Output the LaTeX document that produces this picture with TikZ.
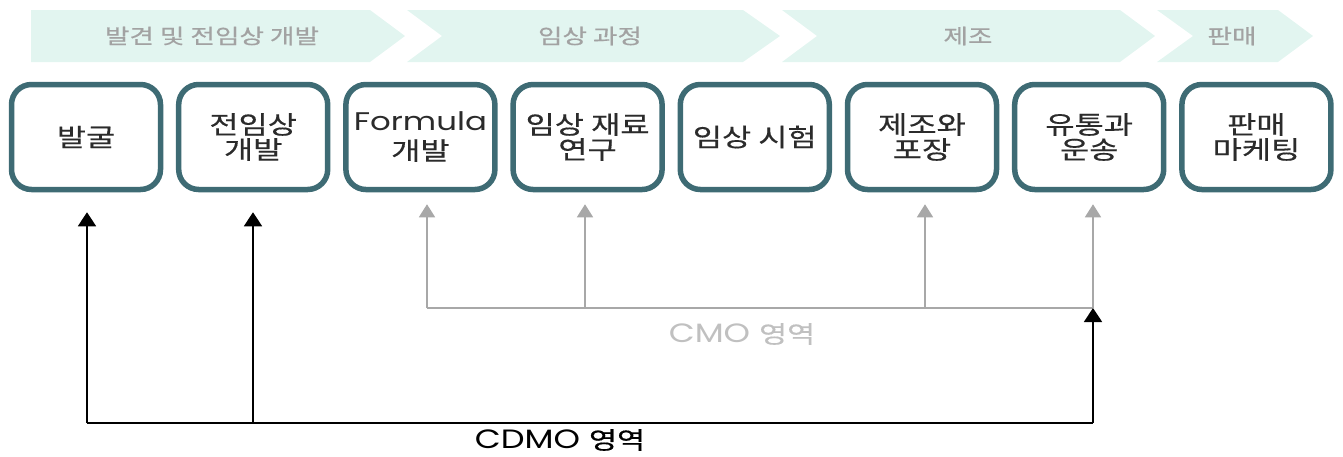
\documentclass[tikz,border=0pt]{standalone}
\usepackage{fontspec}
\usetikzlibrary{arrows.meta}
\newfontfamily\kr[FakeStretch=1.27,FakeBold=0.4]{Noto Sans CJK KR}
\newfontfamily\krb[FakeStretch=1.3,FakeBold=0.5]{Noto Sans CJK KR}
\newfontfamily\lat[FakeStretch=1.27]{Poppins}
\definecolor{teal}{HTML}{3E6B74}
\definecolor{mint}{HTML}{E2F5F0}
\definecolor{bantext}{HTML}{A2A2A2}
\definecolor{boxtext}{HTML}{2B2B2B}
\definecolor{garrow}{HTML}{A8A8A8}
\definecolor{cmotext}{HTML}{C0C0C0}
\tikzset{
  chev/.style={fill=mint, draw=none},
  bantxt/.style={text=bantext, font=\krb\fontsize{20.5}{23}\selectfont, inner sep=0pt},
  stagebox/.style={draw=teal, line width=5.5pt, rounded corners=20pt, fill=white,
    minimum width=149pt, minimum height=105pt, align=center, text=boxtext,
    font=\kr\fontsize{25}{25}\selectfont, inner sep=0pt},
  grayarr/.style={draw=garrow, line width=1.6pt, -{Triangle[width=16pt,length=13pt]}},
  blackarr/.style={draw=black, line width=1.8pt, -{Triangle[width=18pt,length=14pt]}},
  grayline/.style={draw=garrow, line width=1.6pt},
  blackline/.style={draw=black, line width=1.8pt},
  areatxt/.style={font=\lat\fontsize{26.5}{28}\selectfont, inner sep=0pt},
}
\begin{document}
\begin{tikzpicture}[x=1pt,y=-1pt]
\useasboundingbox (0,0) rectangle (1343,456);
% banner
\fill[chev] (31,10) -- (370,10) -- (405,36) -- (370,62) -- (31,62) -- cycle;
\fill[chev] (407,10) -- (743,10) -- (780,36) -- (743,62) -- (407,62) -- (442,36) -- cycle;
\fill[chev] (782,10) -- (1120,10) -- (1155,36) -- (1120,62) -- (782,62) -- (817,36) -- cycle;
\fill[chev] (1157,10) -- (1278,10) -- (1313,36) -- (1278,62) -- (1157,62) -- (1193,36) -- cycle;
\node[bantxt] (p1) at (212,36) {발견 및 전임상 개발};
\node[bantxt] (p2) at (590,36) {임상 과정};
\node[bantxt] (p3) at (968,36) {제조};
\node[bantxt] (p4) at (1232,36) {판매};
% boxes
\node[stagebox] (b1) at (86,137) {발굴};
\node[stagebox] (b2) at (253.2,137) {전임상\\개발};
\node[stagebox] (b3) at (420.4,137) {{\lat\fontsize{25.5}{25}\selectfont Formula}\\[4pt]개발};
\node[stagebox] (b4) at (587.6,137) {임상 재료\\연구};
\node[stagebox] (b5) at (754.8,137) {임상 시험};
\node[stagebox] (b6) at (922,137) {제조와\\포장};
\node[stagebox] (b7) at (1089.2,137) {유통과\\운송};
\node[stagebox] (b8) at (1256.4,137) {판매\\마케팅};
% CMO
\coordinate (g1) at (427,308);
\coordinate (g2) at (585,308);
\coordinate (g3) at (925,308);
\coordinate (g4) at (1093,308);
\draw[grayline] (g1) -- (g4);
\draw[grayarr, shorten >=12pt] (g1) -- (g1 |- b3.south);
\draw[grayarr, shorten >=12pt] (g2) -- (g2 |- b4.south);
\draw[grayarr, shorten >=12pt] (g3) -- (g3 |- b6.south);
\draw[grayarr, shorten >=12pt] (g4) -- (g4 |- b7.south);
\node[areatxt, text=cmotext] (cmo) at (742,334) {CMO {\kr\fontsize{24}{26}\selectfont 영역}};
% CDMO
\coordinate (k1) at (87,423);
\coordinate (k2) at (253,423);
\coordinate (k3) at (1093,423);
\draw[blackline] (k1) -- (k3);
\draw[blackarr, shorten >=20pt] (k1) -- (k1 |- b1.south);
\draw[blackarr, shorten >=20pt] (k2) -- (k2 |- b2.south);
\draw[blackarr] (k3) -- (g4);
\node[areatxt, text=black] (cdmo) at (560,440) {CDMO {\kr\fontsize{24}{26}\selectfont 영역}};
\end{tikzpicture}
\end{document}
